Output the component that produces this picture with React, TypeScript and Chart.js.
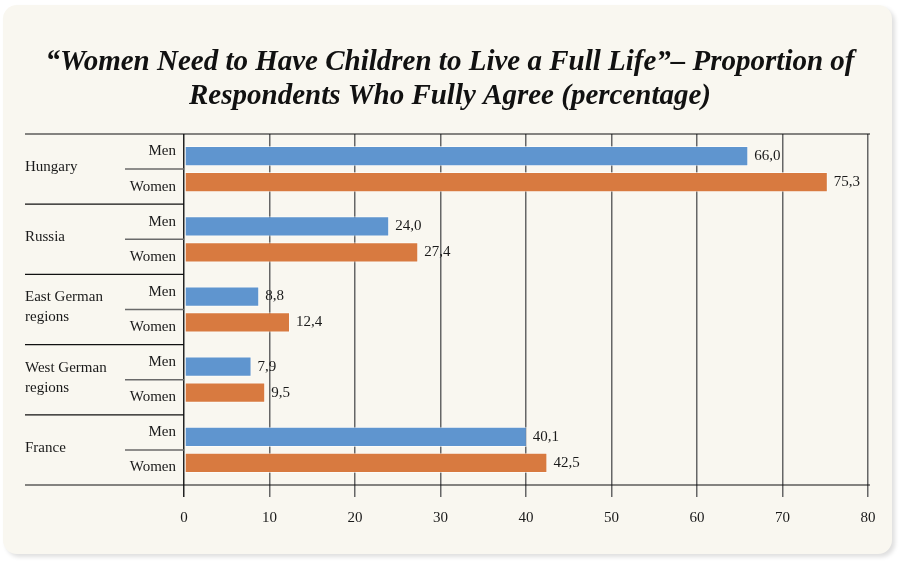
import React, { useEffect, useRef } from "react";
import { Chart, registerables } from "chart.js";

Chart.register(...registerables);

// Survey answers: share of respondents who fully agree (percent)
const countryLabels: string[][] = [
  ["Hungary"],
  ["Russia"],
  ["East German", "regions"],
  ["West German", "regions"],
  ["France"],
];
const genderLabels = ["Men", "Women"];
const menValues = [66.0, 24.0, 8.8, 7.9, 40.1];
const womenValues = [75.3, 27.4, 12.4, 9.5, 42.5];
const xTickValues = [0, 10, 20, 30, 40, 50, 60, 70, 80];
const titleLines = [
  "“Women Need to Have Children to Live a Full Life”– Proportion of",
  "Respondents Who Fully Agree (percentage)",
];

const SERIF = "'Liberation Serif', 'DejaVu Serif', serif";
const BLUE = "#5f95cf";
const ORANGE = "#d87a40";
const LABEL_LEFT = 25;
const SUB_LEFT = 125;
const LINE_RIGHT = 870;

const decorations = {
  id: "decorations",
  afterDraw(chart: any) {
    const { ctx, chartArea } = chart;
    const yScale = chart.scales.y;
    const n = countryLabels.length;
    const h = (chartArea.bottom - chartArea.top) / n;

    ctx.save();
    // title
    ctx.fillStyle = "#111";
    ctx.textAlign = "center";
    ctx.textBaseline = "middle";
    ctx.font = `italic bold 29px ${SERIF}`;
    ctx.fillText(titleLines[0], 450, 63);
    ctx.fillText(titleLines[1], 450, 97);

    // row labels and separators
    ctx.font = `15px ${SERIF}`;
    ctx.fillStyle = "#1a1a1a";
    for (let i = 0; i < n; i++) {
      const c = yScale.getPixelForValue(i);
      const lines = countryLabels[i];
      ctx.textAlign = "left";
      lines.forEach((t, k) => {
        const off = (k - (lines.length - 1) / 2) * 20;
        ctx.fillText(t, LABEL_LEFT, c - 2 + off);
      });
      ctx.textAlign = "right";
      ctx.fillText(genderLabels[0], chartArea.left - 8, c - h / 4);
      ctx.fillText(genderLabels[1], chartArea.left - 8, c + h / 4);

      ctx.strokeStyle = "#6a6a6a";
      ctx.lineWidth = 1.5;
      ctx.beginPath();
      ctx.moveTo(SUB_LEFT, c);
      ctx.lineTo(chartArea.left, c);
      ctx.stroke();

      if (i > 0) {
        const b = c - h / 2;
        ctx.strokeStyle = "#111";
        ctx.lineWidth = 1.2;
        ctx.beginPath();
        ctx.moveTo(LABEL_LEFT, b);
        ctx.lineTo(chartArea.left, b);
        ctx.stroke();
      }
    }

    // top and bottom rules across the full width
    ctx.strokeStyle = "#111";
    ctx.lineWidth = 1.2;
    [chartArea.top, chartArea.bottom].forEach((y: number) => {
      ctx.beginPath();
      ctx.moveTo(LABEL_LEFT, y);
      ctx.lineTo(LINE_RIGHT, y);
      ctx.stroke();
    });

    // value labels
    ctx.font = `15px ${SERIF}`;
    ctx.fillStyle = "#1a1a1a";
    ctx.textAlign = "left";
    ctx.textBaseline = "middle";
    chart.data.datasets.forEach((ds: any, di: number) => {
      const meta = chart.getDatasetMeta(di);
      meta.data.forEach((bar: any, idx: number) => {
        const v = ds.data[idx] as number;
        ctx.fillText(v.toFixed(1).replace(".", ","), bar.x + 6, bar.y);
      });
    });
    ctx.restore();
  },
};

export default function App() {
  const canvasRef = useRef<HTMLCanvasElement | null>(null);

  useEffect(() => {
    if (!canvasRef.current) return;
    const barStyle = {
      borderColor: "rgba(255,255,255,0.6)",
      borderWidth: 1,
      borderSkipped: false,
      categoryPercentage: 0.74,
      barPercentage: 0.78,
    };
    const chart = new Chart(canvasRef.current, {
      type: "bar",
      data: {
        labels: countryLabels.map((l) => l.join(" ")),
        datasets: [
          { label: genderLabels[0], data: menValues, backgroundColor: BLUE, ...barStyle },
          { label: genderLabels[1], data: womenValues, backgroundColor: ORANGE, ...barStyle },
        ],
      },
      options: {
        indexAxis: "y",
        responsive: false,
        animation: false,
        devicePixelRatio: 1,
        layout: { padding: { left: 184, right: 32, top: 134, bottom: 0 } },
        plugins: {
          legend: { display: false },
          title: { display: false },
          tooltip: { enabled: false },
        },
        scales: {
          y: { type: "category", display: false },
          x: {
            type: "linear",
            min: 0,
            max: 80,
            afterFit: (s: any) => {
              s.height = 77;
            },
            afterBuildTicks: (s: any) => {
              s.ticks = xTickValues.map((v) => ({ value: v }));
            },
            ticks: {
              font: { family: SERIF, size: 15 },
              color: "#1a1a1a",
              padding: 12,
              maxRotation: 0,
            },
            grid: {
              color: (c: any) => (c.tick && c.tick.value === 0 ? "#222" : "#666"),
              lineWidth: 1.5,
              drawTicks: true,
              tickLength: 12,
            },
            border: { display: false },
          },
        },
      },
      plugins: [decorations],
    } as any);
    return () => chart.destroy();
  }, []);

  return (
    <div style={{ position: "absolute", left: 0, top: 0, width: 900, height: 562, background: "#ffffff" }}>
      <div
        style={{
          position: "absolute",
          left: 3,
          top: 5,
          width: 889,
          height: 549,
          borderRadius: 14,
          background: "#f9f7f0",
          boxShadow: "3px 3px 4px rgba(0,0,0,0.13)",
        }}
      />
      <canvas ref={canvasRef} width={900} height={562} style={{ position: "absolute", left: 0, top: 0 }} />
    </div>
  );
}
